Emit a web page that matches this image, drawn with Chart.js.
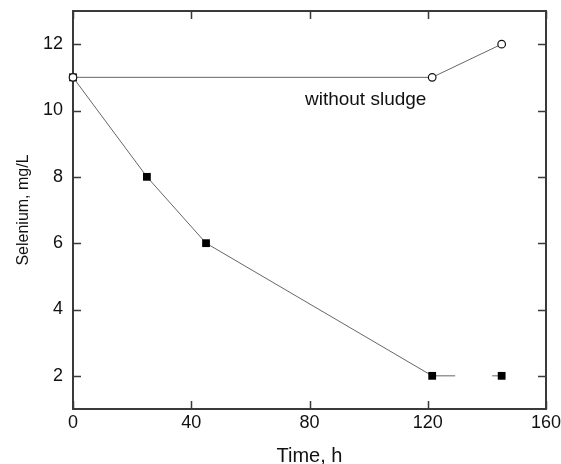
<!DOCTYPE html>
<html>
<head>
<meta charset="utf-8">
<script src="https://cdn.jsdelivr.net/npm/chart.js@4/dist/chart.umd.min.js"></script>
<style>
  html, body { margin: 0; padding: 0; background: #fff; }
  #wrap { width: 561px; height: 464px; }
</style>
</head>
<body>
<div id="wrap"><canvas id="myChart" width="561" height="464"></canvas></div>
<script>
// time in hours, selenium in mg/L
const withSludgeTime = [0, 25, 45, 121.5, 145];
const withSludgeSe = [11, 8, 6, 2, 2];
const withoutSludgeTime = [0, 121.5, 145];
const withoutSludgeSe = [11, 11, 12];

const xTicks = [0, 40, 80, 120, 160];
const yTicks = [2, 4, 6, 8, 10, 12];

const noteText = "without sludge";
const notePos = [99, 10.17];

function toPoints(xs, ys) {
    return xs.map((x, i) => ({ x: x, y: ys[i] }));
}

// box around the plot plus inward tick marks on all four sides
const frameTicks = {
    id: "frameTicks",
    beforeDatasetsDraw(chart) {
        const { ctx, chartArea: a, scales } = chart;
        ctx.save();
        ctx.strokeStyle = "#3a3a3a";
        ctx.lineWidth = 2;
        ctx.strokeRect(a.left, a.top, a.right - a.left, a.bottom - a.top);
        ctx.lineWidth = 1.5;
        ctx.beginPath();
        scales.x.ticks.forEach(t => {
            const px = Math.round(scales.x.getPixelForValue(t.value)) + 0.5;
            ctx.moveTo(px, a.bottom); ctx.lineTo(px, a.bottom - 8);
            ctx.moveTo(px, a.top); ctx.lineTo(px, a.top + 8);
        });
        scales.y.ticks.forEach(t => {
            const py = Math.round(scales.y.getPixelForValue(t.value)) + 0.5;
            ctx.moveTo(a.left, py); ctx.lineTo(a.left + 8, py);
            ctx.moveTo(a.right, py); ctx.lineTo(a.right - 8, py);
        });
        ctx.stroke();

        ctx.fillStyle = "#111";
        ctx.font = "19px 'Liberation Sans', Arial, sans-serif";
        ctx.textAlign = "center";
        ctx.textBaseline = "alphabetic";
        ctx.fillText(noteText, scales.x.getPixelForValue(notePos[0]), scales.y.getPixelForValue(notePos[1]));
        ctx.restore();
    }
};

document.addEventListener("DOMContentLoaded", function () {
    const ctx = document.getElementById("myChart").getContext("2d");

    new Chart(ctx, {
        type: "scatter",
        data: {
            datasets: [
                {
                    label: "without sludge",
                    data: toPoints(withoutSludgeTime, withoutSludgeSe),
                    showLine: true,
                    clip: false,
                    borderColor: "#666",
                    borderWidth: 1,
                    pointStyle: "circle",
                    pointRadius: 3.8,
                    pointBorderWidth: 1.2,
                    pointBorderColor: "#111",
                    pointBackgroundColor: "#fff"
                },
                {
                    label: "with sludge",
                    data: toPoints(withSludgeTime, withSludgeSe),
                    showLine: true,
                    clip: false,
                    borderColor: "#666",
                    borderWidth: 1,
                    pointStyle: "rect",
                    pointRadius: 5.5,
                    pointBorderWidth: 0,
                    pointBackgroundColor: "#000",
                    segment: {
                        borderDash: c => c.p0DataIndex === 3 ? [23, 37] : undefined
                    }
                }
            ]
        },
        options: {
            responsive: false,
            animation: false,
            layout: { padding: { left: 0, right: 15, top: 11, bottom: 0 } },
            plugins: {
                legend: { display: false },
                tooltip: { enabled: false }
            },
            scales: {
                x: {
                    type: "linear",
                    min: 0,
                    max: 160,
                    afterBuildTicks: s => { s.ticks = xTicks.map(v => ({ value: v })); },
                    afterFit: s => { s.height = 55; s.paddingLeft = 0; s.paddingRight = 0; },
                    grid: { display: false, drawTicks: false },
                    border: { display: false },
                    ticks: {
                        padding: 3,
                        color: "#111",
                        font: { family: "'Liberation Sans', Arial, sans-serif", size: 18 }
                    },
                    title: {
                        display: true,
                        text: "Time, h",
                        color: "#111",
                        padding: { top: 0, bottom: 0 },
                        font: { family: "'Liberation Sans', Arial, sans-serif", size: 20, lineHeight: 0.8 }
                    }
                },
                y: {
                    type: "linear",
                    min: 1,
                    max: 13,
                    afterBuildTicks: s => { s.ticks = yTicks.map(v => ({ value: v })); },
                    afterFit: s => { s.width = 73; s.paddingTop = 0; s.paddingBottom = 0; },
                    grid: { display: false, drawTicks: false },
                    border: { display: false },
                    ticks: {
                        padding: 10,
                        color: "#111",
                        font: { family: "'Liberation Sans', Arial, sans-serif", size: 18 }
                    },
                    title: {
                        display: true,
                        text: "Selenium, mg/L",
                        color: "#111",
                        padding: { top: 14, bottom: 14 },
                        font: { family: "'Liberation Sans', Arial, sans-serif", size: 16 }
                    }
                }
            }
        },
        plugins: [frameTicks]
    });
});
</script>
</body>
</html>
